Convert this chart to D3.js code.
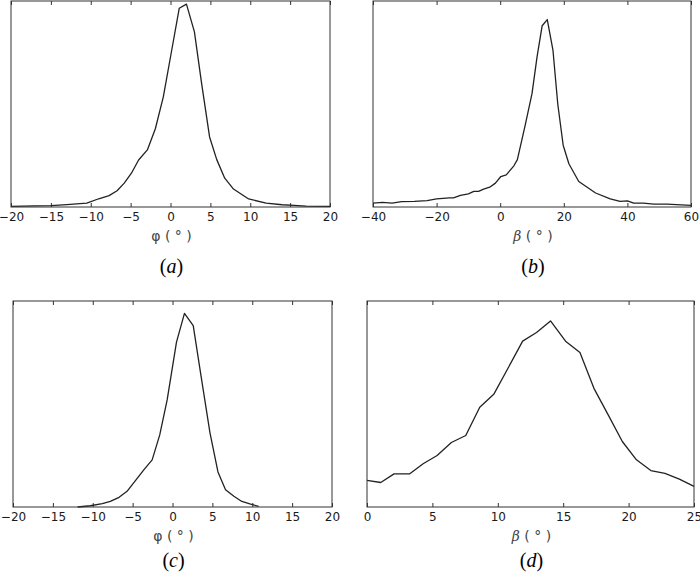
<!DOCTYPE html>
<html>
<head>
<meta charset="utf-8">
<script src="https://cdnjs.cloudflare.com/ajax/libs/d3/7.8.5/d3.min.js"></script>
<style>
  body { margin: 0; background: #fff; }
  .frame { fill: none; stroke: #333; stroke-width: 1px; }
  .curve { fill: none; stroke: #222; stroke-width: 1.3px; stroke-linejoin: round; }
</style>
</head>
<body>
<svg id="chart" width="700" height="575"></svg>
<script>
// panel (a): phi distribution
var aX = [-20, -17, -15, -13, -10.5, -9, -7.7, -6.7, -5.8, -4.9, -4, -2.9, -1.9, -0.9, 0.1, 1.1, 2.0, 3.0, 3.9, 4.9, 5.8, 6.8, 7.9, 9.8, 12, 14, 15.5, 17, 20];
var aY = [0.003, 0.005, 0.007, 0.012, 0.019, 0.04, 0.055, 0.079, 0.116, 0.164, 0.228, 0.277, 0.38, 0.535, 0.75, 0.965, 0.985, 0.85, 0.6, 0.34, 0.23, 0.14, 0.087, 0.039, 0.019, 0.011, 0.008, 0.004, 0.003];

// panel (b): beta distribution
var bX = [-40, -37, -34, -31, -27, -23, -20, -16, -14.7, -12.5, -10, -8.3, -6.8, -5.2, -3.3, -1.5, 0.2, 1.9, 4.3, 5.4, 7.9, 10, 11.6, 13.2, 14.8, 16.6, 18.1, 19.8, 21.6, 24.7, 26.2, 30, 34.6, 37.7, 40, 42, 45, 48.3, 52.4, 60];
var bY = [0.019, 0.022, 0.019, 0.026, 0.027, 0.031, 0.039, 0.044, 0.044, 0.056, 0.064, 0.076, 0.076, 0.087, 0.096, 0.116, 0.148, 0.156, 0.2, 0.23, 0.4, 0.55, 0.73, 0.88, 0.91, 0.76, 0.5, 0.3, 0.21, 0.124, 0.108, 0.068, 0.039, 0.027, 0.03, 0.019, 0.019, 0.014, 0.014, 0.008];

// panel (c): phi distribution (subset)
var cX = [-11.9, -10.3, -8.8, -7.8, -6.7, -5.7, -4.6, -3.6, -2.55, -1.6, -0.67, 0.5, 1.5, 2.6, 3.6, 4.7, 5.7, 6.65, 7.7, 8.7, 9.7, 10.8];
var cY = [0, 0.006, 0.016, 0.027, 0.047, 0.076, 0.13, 0.18, 0.229, 0.35, 0.52, 0.8, 0.94, 0.88, 0.63, 0.36, 0.17, 0.084, 0.052, 0.027, 0.015, 0.003];

// panel (d): beta distribution (subset)
var dX = [0, 1.05, 2.07, 3.27, 4.29, 5.36, 6.45, 7.55, 8.62, 9.69, 10.8, 11.9, 12.96, 14.03, 15.18, 16.28, 17.35, 18.44, 19.52, 20.6, 21.7, 22.78, 23.88, 25];
var dY = [0.129, 0.119, 0.161, 0.161, 0.21, 0.25, 0.313, 0.347, 0.484, 0.547, 0.676, 0.805, 0.847, 0.903, 0.805, 0.75, 0.576, 0.447, 0.318, 0.229, 0.177, 0.163, 0.135, 0.1];

var panels = [
  { x: aX, y: aY, dom: [-20, 20], ticks: d3.range(-20, 21, 5), box: [11, 1, 330, 207], sym: "φ", it: false, tag: "a", off: 66 },
  { x: bX, y: bY, dom: [-40, 60], ticks: d3.range(-40, 61, 20), box: [373, 1, 691, 207], sym: "β", it: true, tag: "b", off: 66 },
  { x: cX, y: cY, dom: [-20, 20], ticks: d3.range(-20, 21, 5), box: [13, 301, 332, 507], sym: "φ", it: false, tag: "c", off: 60 },
  { x: dX, y: dY, dom: [0, 25], ticks: d3.range(0, 26, 5), box: [367, 301, 694, 507], sym: "β", it: true, tag: "d", off: 60 }
];

var svg = d3.select("#chart");

panels.forEach(function(p) {
  var x0 = p.box[0], y0 = p.box[1], x1 = p.box[2], y1 = p.box[3];
  var x = d3.scaleLinear().domain(p.dom).range([x0, x1]);
  var y = d3.scaleLinear().domain([0, 1]).range([y1, y0]);
  var g = svg.append("g");

  // bottom axis: inward ticks with labels
  var bot = g.append("g")
    .attr("transform", "translate(0," + y1 + ")")
    .call(d3.axisBottom(x).tickValues(p.ticks).tickSizeInner(-4).tickSizeOuter(0).tickPadding(5))
    .attr("font-size", 12)
    .attr("font-family", "DejaVu Sans");
  bot.select(".domain").remove();
  bot.selectAll(".tick text").attr("fill", "#1a1a1a");
  bot.selectAll(".tick line").attr("stroke", "#333");

  // top axis: inward ticks only
  var top = g.append("g")
    .attr("transform", "translate(0," + y0 + ")")
    .call(d3.axisTop(x).tickValues(p.ticks).tickSizeInner(-4).tickSizeOuter(0).tickFormat(""));
  top.select(".domain").remove();
  top.selectAll(".tick line").attr("stroke", "#333");

  var pts = p.x.map(function(v, i) { return [v, p.y[i]]; });
  g.append("path")
    .datum(pts)
    .attr("class", "curve")
    .attr("d", d3.line().x(function(d) { return x(d[0]); }).y(function(d) { return y(d[1]); }));

  g.append("rect")
    .attr("class", "frame")
    .attr("x", x0).attr("y", y0)
    .attr("width", x1 - x0).attr("height", y1 - y0);

  var cx = (x0 + x1) / 2 + 1;
  var lab = g.append("text")
    .attr("x", cx).attr("y", y1 + 34)
    .attr("text-anchor", "middle")
    .attr("font-family", "DejaVu Sans")
    .attr("font-size", 14)
    .attr("fill", "#444");
  lab.append("tspan")
    .attr("font-family", p.it ? "DejaVu Serif" : null)
    .attr("font-style", p.it ? "italic" : null)
    .text(p.sym);
  lab.append("tspan").text(" ( ° )");

  var pl = g.append("text")
    .attr("x", cx).attr("y", y1 + p.off)
    .attr("text-anchor", "middle")
    .attr("font-family", "Liberation Serif")
    .attr("font-size", 20)
    .attr("fill", "#000");
  pl.append("tspan").text("(");
  pl.append("tspan").attr("font-style", "italic").text(p.tag);
  pl.append("tspan").text(")");
});
</script>
</body>
</html>
